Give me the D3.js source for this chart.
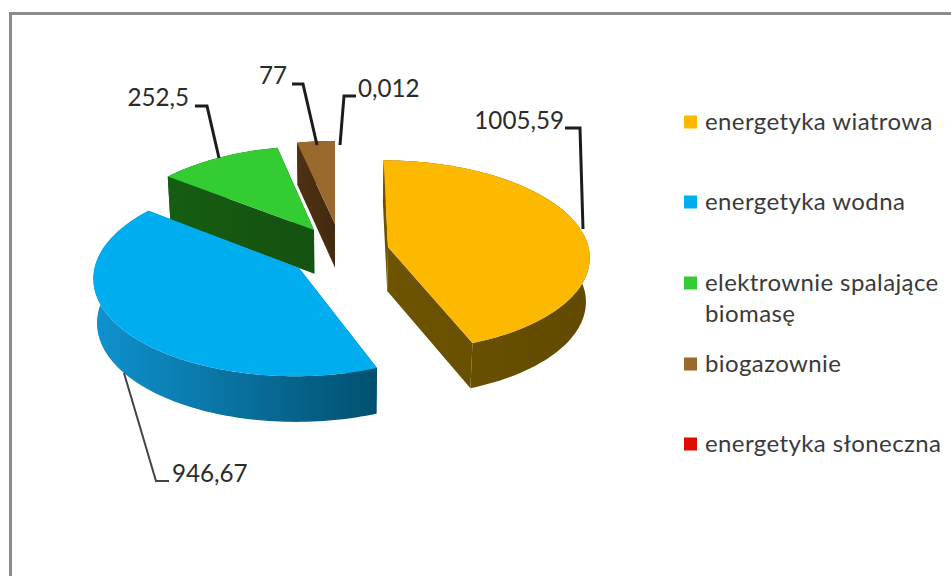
<!DOCTYPE html>
<html><head><meta charset="utf-8">
<script src="https://cdnjs.cloudflare.com/ajax/libs/d3/7.8.5/d3.min.js"></script>
<style>html,body{margin:0;background:#fff;overflow:hidden}svg{display:block}text{font-family:Lato,"Open Sans",sans-serif}</style>
</head><body><svg id="c" width="951" height="576"></svg>
<script>
const categories = ["energetyka wiatrowa","energetyka wodna","elektrownie spalające biomasę","biogazownie","energetyka słoneczna"];
const values = [1005.59, 946.67, 252.5, 77, 0.012];
const valueLabels = ["1005,59","946,67","252,5","77","0,012"];
const topColors = ["#fdb900","#00aeef","#33cc33","#9a692e","#e00c00"];
const wallLight = ["#6e5400","#0f92cf","#165d12","#4f3012","#800000"];
const wallDark  = ["#614a00","#02506f","#145410","#452a10","#800000"];

// layout (screen apex of each exploded slice, leader polylines, label anchors)
const apex = [[388,247],[299,268],[314,230],[335,224],[339,222]];
const leaders = [
  [[565,128],[580,128],[583,229]],
  [[124,373],[156,481],[169,481]],
  [[195,106],[207,106],[219,158]],
  [[292,84],[303,84],[317,145]],
  [[356,96],[344,96],[340,145]]
];
const labelPos = [[564,129,"end"],[172,482,"start"],[189,106,"end"],[287,84,"end"],[358,97,"start"]];
const legendY = [122,202,283,364,444];
const RX=201, RY=95, DEPTH=44, XV=335, Y0=250, Q=0.00095;

const svg=d3.select("#c");
const defs=svg.append("defs");

// frame
svg.append("path").attr("d","M10.5,576V13.5H951").attr("fill","none").attr("stroke","#8c8c8c").attr("stroke-width",3);

// perspective projection
const proj=(X,Y)=>{const s=1/(1-Q*(Y-Y0));return [XV+(X-XV)*s,Y0+(Y-Y0)*s];};
const unproj=(sx,sy)=>{const d=sy-Y0,k=1+Q*d;return [XV+(sx-XV)/k,Y0+d/k];};
const drop=(p)=>{const s=(p[1]-Y0)*0.0003+1;return [XV+(p[0]-XV)*0.985,p[1]+DEPTH*s];};

const arcs=d3.pie().sort(null).value(d=>d)(values);
const line=d3.line();
const drawOrder=[3,4,2,1,0];
const root=svg.append("g");

drawOrder.forEach(i=>{
  const a=arcs[i],[cx,cy]=unproj(apex[i][0],apex[i][1]);
  const sweep=a.endAngle-a.startAngle;
  const n=Math.max(2,Math.ceil(sweep*40));
  const angs=d3.range(n+1).map(j=>a.startAngle+sweep*j/n);
  const rim=angs.map(t=>proj(cx+RX*Math.sin(t),cy-RY*Math.cos(t)));
  const c=proj(cx,cy);
  const ext=d3.extent(rim,p=>p[0]);
  const g=defs.append("linearGradient").attr("id","w"+i).attr("gradientUnits","userSpaceOnUse")
    .attr("x1",ext[0]).attr("x2",ext[1]).attr("y1",0).attr("y2",0);
  g.append("stop").attr("offset",0).attr("stop-color",wallLight[i]);
  g.append("stop").attr("offset",1).attr("stop-color",wallDark[i]);
  const gi=root.append("g");
  const wall=pts=>gi.append("path").attr("d",line(pts.concat(pts.map(drop).reverse()))+"Z").attr("fill",`url(#w${i})`);
  // a sliver this thin has no visible walls
  if(sweep>0.001){ wall([c,rim[0]]); wall([c,rim[n]]); wall(rim); }
  gi.append("path").attr("d",line([c,...rim])+"Z").attr("fill",topColors[i]);
});

// leaders & value labels
leaders.forEach((l,i)=>{
  svg.append("path").attr("d",line(l)).attr("fill","none").attr("stroke",i==1?"#444":"#1c1c1c").attr("stroke-width",i==1?2:3);
  svg.append("text").attr("x",labelPos[i][0]).attr("y",labelPos[i][1])
    .attr("text-anchor",labelPos[i][2]).attr("font-size",24.2).attr("fill","#2b2b2b").text(valueLabels[i]);
});

// legend
categories.forEach((c,i)=>{
  svg.append("rect").attr("x",684).attr("y",legendY[i]-6.5).attr("width",13).attr("height",13).attr("fill",topColors[i]);
  const t=svg.append("text").attr("x",705).attr("y",legendY[i]).attr("dy","0.35em").attr("font-size",24).attr("letter-spacing",0.4).attr("fill","#3a3a3a");
  const words=c.split(" ");
  if(c.length>22){
    t.append("tspan").attr("x",705).text(words.slice(0,2).join(" "));
    t.append("tspan").attr("x",705).attr("dy",31).text(words[2]);
  } else t.text(c);
});
</script></body></html>
